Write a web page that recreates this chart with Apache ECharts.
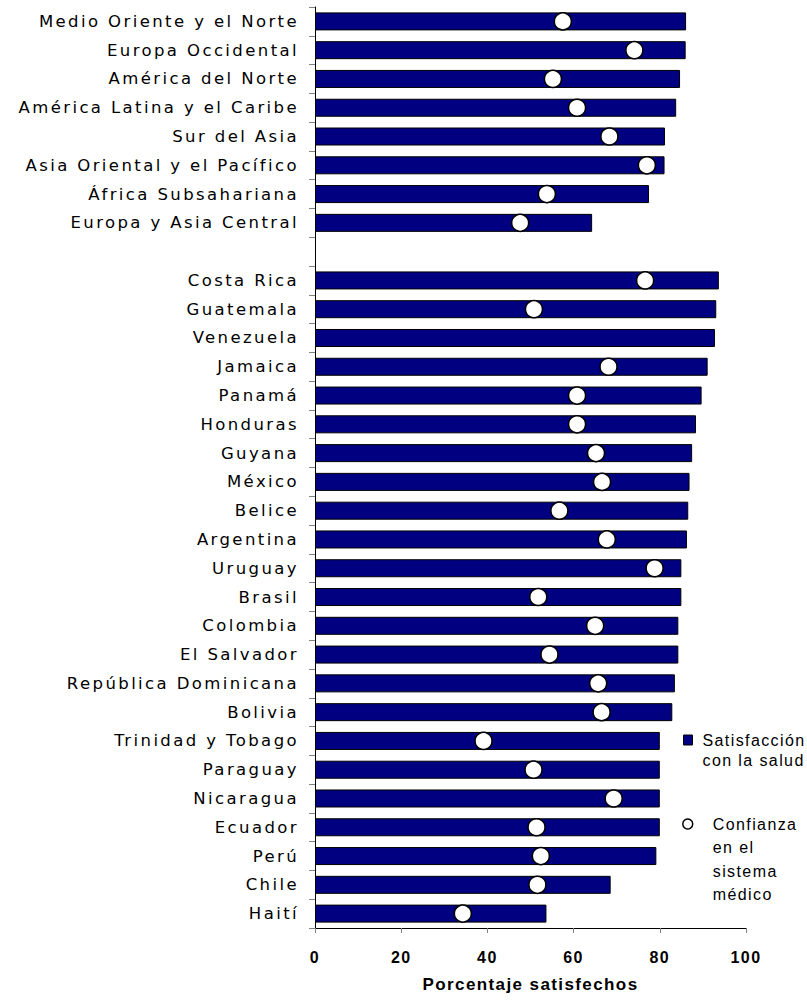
<!DOCTYPE html>
<html>
<head>
<meta charset="utf-8">
<script src="https://cdn.jsdelivr.net/npm/echarts@6/dist/echarts.min.js"></script>
<style>
  html, body { margin: 0; padding: 0; background: #fff; }
  #chart { width: 807px; height: 1003px; }
  #chart text[style*="DejaVu"] { letter-spacing: 2.4px; }
  #chart text[style*="Liberation"] { letter-spacing: 1.4px; }
</style>
</head>
<body>
<div id="chart"></div>
<script>
const categories = [
  'Medio Oriente y el Norte', 'Europa Occidental', 'América del Norte',
  'América Latina y el Caribe', 'Sur del Asia', 'Asia Oriental y el Pacífico',
  'África Subsahariana', 'Europa y Asia Central', '',
  'Costa Rica', 'Guatemala', 'Venezuela', 'Jamaica', 'Panamá', 'Honduras',
  'Guyana', 'México', 'Belice', 'Argentina', 'Uruguay', 'Brasil', 'Colombia',
  'El Salvador', 'República Dominicana', 'Bolivia', 'Trinidad y Tobago',
  'Paraguay', 'Nicaragua', 'Ecuador', 'Perú', 'Chile', 'Haití'
];
const satisfaccion = [
  86.1, 86.0, 84.7, 83.8, 81.2, 81.1, 77.5, 64.3, null,
  93.7, 93.1, 92.8, 91.1, 89.7, 88.4, 87.5, 86.9, 86.6, 86.3, 85.0, 85.0, 84.3,
  84.3, 83.5, 82.9, 80.0, 80.0, 80.0, 80.0, 79.2, 68.6, 53.7
];
const confianza = [
  57.5, 74.1, 55.2, 60.8, 68.3, 77.0, 53.8, 47.6, null,
  76.6, 50.8, null, 68.1, 60.8, 60.8, 65.2, 66.6, 56.7, 67.7, 78.8, 51.8, 65.0,
  54.4, 65.7, 66.5, 39.1, 50.7, 69.3, 51.4, 52.4, 51.6, 34.3
];
const xTicks = [0, 20, 40, 60, 80, 100];
const seriesNames = ['Satisfacción con la salud', 'Confianza en el sistema médico'];
const legendLines = {
  'Satisfacción con la salud': ['Satisfacción', 'con la salud'],
  'Confianza en el sistema médico': ['Confianza', 'en el', 'sistema', 'médico']
};
// pad with blank lines before, so the first line sits level with the legend icon
function legendText(name) {
  const lines = legendLines[name];
  return new Array(lines.length - 1).fill('').concat(lines).join('\n');
}

const chart = echarts.init(document.getElementById('chart'), null, { renderer: 'svg' });
const labelFont = 'DejaVu Sans';
const numFont = 'Liberation Sans';

const lh1 = 20, lh2 = 23.5;
const icon1Y = 740, icon2Y = 824;

chart.setOption({
  animation: false,
  backgroundColor: '#fff',
  grid: { left: 315, right: 61, top: 7, bottom: 75, containLabel: false },
  xAxis: {
    type: 'value', min: xTicks[0], max: xTicks[xTicks.length - 1], interval: 20,
    axisLine: { show: true, lineStyle: { color: '#000', width: 1 } },
    axisTick: { show: true, length: 5, lineStyle: { color: '#808080' } },
    splitLine: { show: false },
    axisLabel: { fontFamily: numFont, fontWeight: 'bold', fontSize: 16, color: '#000', margin: 21 },
    name: 'Porcentaje satisfechos', nameLocation: 'middle', nameGap: 48,
    nameTextStyle: { fontFamily: numFont, fontWeight: 'bold', fontSize: 17, color: '#000' }
  },
  yAxis: {
    type: 'category', data: categories, inverse: true,
    axisLine: { show: true, lineStyle: { color: '#000', width: 1 } },
    axisTick: { show: true, length: 6, interval: 0, lineStyle: { color: '#808080' } },
    axisLabel: { fontFamily: labelFont, fontSize: 16.5, color: '#000', margin: 16, interval: 0 },
    splitLine: { show: false }
  },
  legend: [
    {
      data: [seriesNames[0]], left: 683, top: icon1Y - lh1 * 1.5, orient: 'vertical', padding: 0,
      itemWidth: 9, itemHeight: 10, icon: 'rect',
      itemStyle: { color: '#000080', borderColor: '#000', borderWidth: 1 },
      formatter: legendText,
      textStyle: { fontFamily: numFont, fontSize: 16, color: '#000', lineHeight: lh1, padding: [0, 0, 0, 5] }
    },
    {
      data: [seriesNames[1]], left: 682, top: icon2Y - lh2 * 3.5, orient: 'vertical', padding: 0,
      itemWidth: 10, itemHeight: 10, icon: 'circle',
      itemStyle: { color: '#fff', borderColor: '#000', borderWidth: 1.5 },
      formatter: legendText,
      textStyle: { fontFamily: numFont, fontSize: 16, color: '#000', lineHeight: lh2, padding: [0, 0, 0, 15] }
    }
  ],
  series: [
    {
      name: seriesNames[0], type: 'bar', data: satisfaccion, barWidth: 18,
      itemStyle: { color: '#000080', borderColor: '#000', borderWidth: 1 }
    },
    {
      name: seriesNames[1], type: 'scatter', data: confianza, symbol: 'circle', symbolSize: 17,
      itemStyle: { color: '#fff', borderColor: '#000', borderWidth: 1.5, opacity: 1 },
      z: 5
    }
  ]
});
</script>
</body>
</html>
